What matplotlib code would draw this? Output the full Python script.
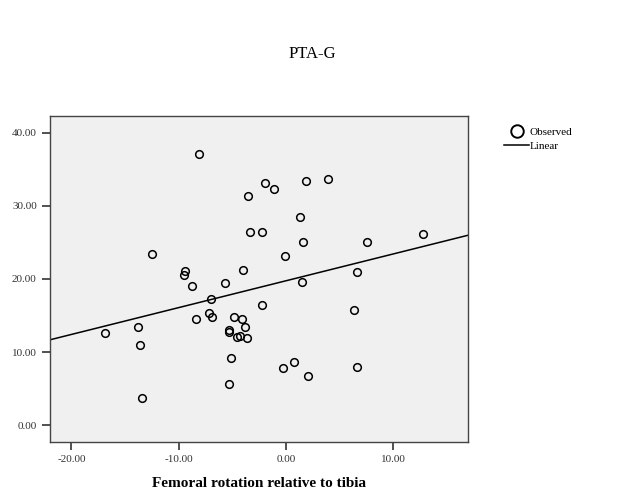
import matplotlib
matplotlib.use("Agg")
import matplotlib.pyplot as plt
from matplotlib.lines import Line2D
import numpy as np

# femoral rotation relative to tibia (x) vs PTA-G (y)
rotation = [-8.1, -1.9, 1.9, 3.9, -1.1, -3.5, 1.3, -3.3, -2.2, 1.6,
            7.6, 12.8, -12.5, -0.1, -9.4, -9.5, -4.0, 6.6, -8.8, -5.7,
            1.5, -7.0, -2.2, 6.4, -7.2, -6.9, -4.8, -8.4, -4.1, -16.9,
            -13.8, -3.8, -5.3, -5.3, -4.6, -4.3, -3.6, -13.6, -5.1, 0.8,
            -0.3, 6.6, 2.1, -5.3, -13.4]
pta_g = [37.1, 33.1, 33.4, 33.7, 32.3, 31.4, 28.5, 26.4, 26.4, 25.0,
         25.1, 26.2, 23.4, 23.1, 21.1, 20.6, 21.2, 20.9, 19.1, 19.5,
         19.6, 17.3, 16.5, 15.7, 15.3, 14.8, 14.8, 14.5, 14.5, 12.6,
         13.5, 13.5, 13.0, 12.7, 12.1, 12.2, 11.9, 11.0, 9.2, 8.7,
         7.8, 8.0, 6.7, 5.7, 3.7]

x = np.array(rotation)
y = np.array(pta_g)
slope, intercept = np.polyfit(x, y, 1)

plt.rcParams['font.family'] = ['Liberation Serif', 'DejaVu Serif']

fig = plt.figure(figsize=(6.25, 5), dpi=100)
ax = fig.add_axes([0.08, 0.116, 0.669, 0.652])
ax.set_facecolor('#f0f0f0')

ax.plot(x, y, 'o', mfc='none', mec='black', ms=5.5, mew=1.1, zorder=3)
xl = np.array([-22, 17])
ax.plot(xl, intercept + slope * xl, color='black', lw=1.1, zorder=2)

ax.set_xlim(-22, 17)
ax.set_ylim(-2.3, 42.3)
ax.set_xticks([-20, -10, 0, 10])
ax.set_yticks([0, 10, 20, 30, 40])
ax.xaxis.set_major_formatter(matplotlib.ticker.FormatStrFormatter('%.2f'))
ax.yaxis.set_major_formatter(matplotlib.ticker.FormatStrFormatter('%.2f'))
ax.tick_params(direction='out', length=6, width=1.2, labelsize=8,
               colors='#333333', labelcolor='#333333')
for s in ax.spines.values():
    s.set_color('#444444')
    s.set_linewidth(1.0)

ax.set_xlabel('Femoral rotation relative to tibia', fontsize=11,
              fontweight='bold', labelpad=9)
fig.text(0.5, 0.893, 'PTA-G', ha='center', va='center', fontsize=12)

handles = [Line2D([], [], marker='o', ls='none', mfc='none', mec='black',
                  ms=9, mew=1.4),
           Line2D([], [], color='black', lw=1.1)]
fig.legend(handles, ['Observed', 'Linear'], loc='upper left',
           bbox_to_anchor=(0.8, 0.755), frameon=False, fontsize=8,
           handlelength=2.2, handletextpad=0.1, labelspacing=0.4,
           borderaxespad=0)

fig.savefig('out.png', dpi=100)
